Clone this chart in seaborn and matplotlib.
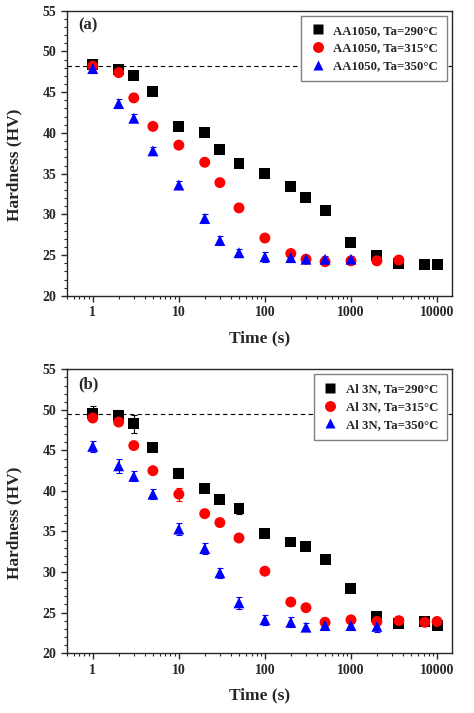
import numpy as np
import pandas as pd
import matplotlib
matplotlib.use("Agg")
import matplotlib.pyplot as plt
import seaborn as sns
from matplotlib.ticker import FixedLocator, MultipleLocator, LogLocator, NullFormatter

# ---------- data ----------
temps = ["290", "315", "350"]
colors = ["black", "red", "blue"]
markers = ["s", "o", "^"]

# panel (a) AA1050
t_a_290 = [1, 2, 3, 5, 10, 20, 30, 50, 100, 200, 300, 500, 1000, 2000, 3600, 7200, 10000]
hv_a_290 = [48.4, 47.8, 47.0, 45.1, 40.8, 40.0, 38.0, 36.3, 35.0, 33.4, 32.1, 30.5, 26.5, 25.0, 24.0, 23.9, 23.8]
err_a_290 = [0.3, 0.3, 0.2, 0.2, 0.2, 0.2, 0.2, 0.2, 0.5, 0.4, 0.2, 0.2, 0.2, 0.3, 0.3, 0.2, 0.2]
t_a_315 = [1, 2, 3, 5, 10, 20, 30, 50, 100, 200, 300, 500, 1000, 2000, 3600]
hv_a_315 = [48.2, 47.4, 44.3, 40.8, 38.5, 36.4, 33.9, 30.8, 27.1, 25.2, 24.5, 24.2, 24.3, 24.3, 24.4]
err_a_315 = [0.3, 0.3, 0.2, 0.2, 0.2, 0.2, 0.2, 0.2, 0.2, 0.3, 0.3, 0.3, 0.3, 0.3, 0.4]
t_a_350 = [1, 2, 3, 5, 10, 20, 30, 50, 100, 200, 300, 500, 1000]
hv_a_350 = [47.9, 43.6, 41.8, 37.8, 33.6, 29.5, 26.8, 25.3, 24.8, 24.7, 24.5, 24.5, 24.5]
err_a_350 = [0.6, 0.6, 0.5, 0.5, 0.5, 0.5, 0.5, 0.5, 0.6, 0.6, 0.5, 0.4, 0.4]
ref_a = 48.2

# panel (b) Al 3N
t_b_290 = [1, 2, 3, 5, 10, 20, 30, 50, 100, 200, 300, 500, 1000, 2000, 3600, 7200, 10000]
hv_b_290 = [49.6, 49.3, 48.3, 45.4, 42.2, 40.3, 39.0, 37.8, 34.7, 33.7, 33.2, 31.5, 28.0, 24.5, 23.6, 23.9, 23.4]
err_b_290 = [0.9, 0.7, 1.1, 0.4, 0.6, 0.4, 0.3, 0.7, 0.2, 0.4, 0.3, 0.2, 0.2, 0.3, 0.3, 0.3, 0.3]
t_b_315 = [1, 2, 3, 5, 10, 20, 30, 50, 100, 200, 300, 500, 1000, 2000, 3600, 7200, 10000]
hv_b_315 = [49.0, 48.5, 45.6, 42.5, 39.6, 37.2, 36.1, 34.2, 30.1, 26.3, 25.6, 23.8, 24.1, 23.9, 24.0, 23.8, 23.9]
err_b_315 = [0.3, 0.4, 0.2, 0.2, 0.8, 0.2, 0.2, 0.2, 0.2, 0.2, 0.2, 0.3, 0.4, 0.4, 0.3, 0.4, 0.3]
t_b_350 = [1, 2, 3, 5, 10, 20, 30, 50, 100, 200, 300, 500, 1000, 2000]
hv_b_350 = [45.5, 43.1, 41.8, 39.6, 35.3, 32.9, 29.9, 26.2, 24.1, 23.8, 23.2, 23.4, 23.4, 23.3]
err_b_350 = [0.7, 0.9, 0.6, 0.6, 0.7, 0.7, 0.6, 0.7, 0.6, 0.6, 0.5, 0.6, 0.6, 0.7]
ref_b = 49.5

panels = [
    ("(a)", "AA1050", [(t_a_290, hv_a_290, err_a_290), (t_a_315, hv_a_315, err_a_315),
                       (t_a_350, hv_a_350, err_a_350)], ref_a),
    ("(b)", "Al 3N", [(t_b_290, hv_b_290, err_b_290), (t_b_315, hv_b_315, err_b_315),
                      (t_b_350, hv_b_350, err_b_350)], ref_b),
]

# ---------- style ----------
sns.set_style("ticks")
plt.rcParams["font.family"] = ["Liberation Serif", "DejaVu Serif"]
plt.rcParams["font.weight"] = "bold"
plt.rcParams["axes.labelweight"] = "bold"
plt.rcParams["axes.linewidth"] = 1.0

fig = plt.figure(figsize=(4.74, 7.13), dpi=100)
positions = [[0.141, 0.585, 0.813, 0.400], [0.141, 0.084, 0.813, 0.398]]

for (tag, alloy, series, ref), pos in zip(panels, positions):
    ax = fig.add_axes(pos)
    frames = []
    for temp, (t, hv, err) in zip(temps, series):
        frames.append(pd.DataFrame({"t": t, "hv": hv, "err": err,
                                    "label": f"{alloy}, Ta={temp}°C"}))
    df = pd.concat(frames, ignore_index=True)
    labels = list(df["label"].unique())

    ax.axhline(ref, color="black", ls=(0, (4, 3)), lw=0.8, zorder=1)

    for lab, c in zip(labels, colors):
        sub = df[df["label"] == lab]
        ax.errorbar(sub["t"], sub["hv"], yerr=sub["err"], fmt="none",
                    ecolor=c, elinewidth=0.8, capsize=2, capthick=0.8, zorder=2)

    sns.scatterplot(data=df, x="t", y="hv", hue="label", style="label",
                    palette=dict(zip(labels, colors)),
                    markers=dict(zip(labels, markers)),
                    s=62, edgecolor="none", ax=ax, zorder=3)

    ax.set_xscale("log")
    ax.set_xlim(0.5, 15000)
    ax.set_ylim(20, 55)
    ax.xaxis.set_major_locator(FixedLocator([1, 10, 100, 1000, 10000]))
    ax.set_xticklabels(["1", "10", "100", "1000", "10000"])
    ax.xaxis.set_minor_locator(LogLocator(base=10, subs=np.arange(2, 10)))
    ax.xaxis.set_minor_formatter(NullFormatter())
    ax.yaxis.set_major_locator(MultipleLocator(5))
    ax.yaxis.set_minor_locator(MultipleLocator(1))
    ax.tick_params(which="major", direction="out", length=4, width=1, labelsize=10)
    ax.tick_params(which="minor", direction="out", length=2.5, width=0.8)
    for lbl in ax.get_xticklabels() + ax.get_yticklabels():
        lbl.set_fontweight("bold")
    for side in ["top", "right"]:
        ax.spines[side].set_visible(True)

    ax.set_xlabel("Time (s)", fontsize=12.5, fontweight="bold", labelpad=8)
    ax.set_ylabel("Hardness (HV)", fontsize=12.5, fontweight="bold", labelpad=4)
    ax.yaxis.set_label_coords(-0.115, 0.46)
    ax.text(0.03, 0.975, tag, transform=ax.transAxes, ha="left", va="top",
            fontsize=12, fontweight="bold")

    leg = ax.legend(loc="upper right", fontsize=9.2, frameon=True, fancybox=False,
                    framealpha=1, edgecolor="gray", borderaxespad=0.4,
                    handlelength=1.2, handletextpad=0.6, borderpad=0.7,
                    labelspacing=0.45, markerscale=1.0)
    leg.get_frame().set_linewidth(1.0)
    for txt in leg.get_texts():
        txt.set_fontweight("bold")

fig.savefig("out.png", dpi=100)
